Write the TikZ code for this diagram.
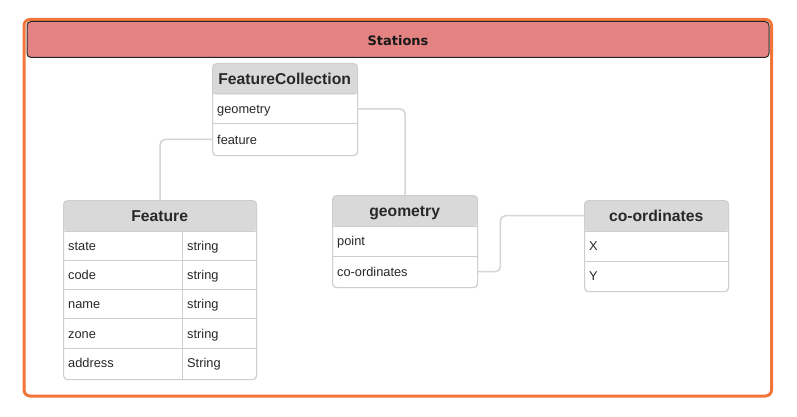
\documentclass[tikz,border=0pt]{standalone}
\usepackage{fontspec}
\setmainfont{Liberation Sans}
\newfontfamily\titlefont{DejaVu Sans}
\usetikzlibrary{calc}
\definecolor{orng}{RGB}{242,117,58}
\definecolor{hdrred}{RGB}{229,130,130}
\definecolor{hdrgray}{RGB}{217,217,217}
\definecolor{bordergray}{RGB}{206,206,206}
\definecolor{txt}{RGB}{40,40,40}
\definecolor{link}{RGB}{212,212,212}
\begin{document}
\begin{tikzpicture}[x=1pt,y=-1pt,
 tbl/.style={draw=bordergray, line width=1.2pt, rounded corners=4pt, anchor=north west, inner sep=0pt,
   path picture={\fill[hdrgray] (path picture bounding box.north west) rectangle ([yshift=-31pt]path picture bounding box.north east);}},
 hcell/.style={anchor=north west, inner xsep=5pt, inner ysep=0pt, align=center, text=txt,
   font=\bfseries\fontsize{15.7}{18}\selectfont, minimum height=31pt, text height=13pt, text depth=1pt},
 cell/.style={anchor=north west, inner xsep=5pt, inner ysep=0pt, align=left, text=txt,
   font=\fontsize{12.8}{15}\selectfont, text height=11pt, text depth=1.5pt},
 sep/.style={draw=bordergray, line width=1pt},
 conn/.style={draw=link, line width=1.5pt, rounded corners=5pt}
]
\useasboundingbox (0,0) rectangle (797,417);
\fill[white] (0,0) rectangle (797,417);

% outer frame and title
\draw[orng, line width=3pt, rounded corners=6pt] (24,19.5) rectangle (771.5,396);
\node[fill=hdrred, draw=black!85, line width=1pt, rounded corners=4pt, anchor=north west, inner sep=0pt,
  minimum width=742pt, minimum height=36pt, font=\titlefont\bfseries\fontsize{13}{16}\selectfont, text=black!90,
  text height=12pt, text depth=0.5pt]
  (title) at (26.5,21) {Stations};

% FeatureCollection
\node[tbl, minimum width=145pt, minimum height=92pt] (fc) at (212,63) {};
\node[hcell, text width=135pt] (fc-h) at (212,63) {FeatureCollection};
\node[cell, text width=135pt, minimum height=29.5pt] (fc-geom) at (212,94) {geometry};
\node[cell, text width=135pt, minimum height=31.5pt] (fc-feat) at (212,123.5) {feature};
\draw[sep] (fc-geom.north west) -- (fc-geom.north east);
\draw[sep] (fc-feat.north west) -- (fc-feat.north east);

% Feature
\node[tbl, minimum width=193pt, minimum height=179pt] (feat) at (63,200) {};
\node[hcell, text width=183pt] (feat-h) at (63,200) {Feature};
\foreach \n/\t/\y [count=\i] in {state/string/231, code/string/260, name/string/289, zone/string/318.5, address/String/348} {
  \node[cell, text width=109pt, minimum height=29.5pt] (feat-n\i) at (63,\y) {\n};
  \node[cell, text width=64pt, minimum height=29.5pt] (feat-t\i) at (182,\y) {\t};
  \draw[sep] (feat-n\i.north west) -- (feat-t\i.north east);
}
\draw[sep] (feat-t1.north west) -- (182,379);

% geometry
\node[tbl, minimum width=145pt, minimum height=92pt] (geo) at (332,195) {};
\node[hcell, text width=135pt] (geo-h) at (332,195) {geometry};
\node[cell, text width=135pt, minimum height=30pt] (geo-pt) at (332,226) {point};
\node[cell, text width=135pt, minimum height=31pt] (geo-co) at (332,256) {co-ordinates};
\draw[sep] (geo-pt.north west) -- (geo-pt.north east);
\draw[sep] (geo-co.north west) -- (geo-co.north east);

% co-ordinates
\node[tbl, minimum width=144pt, minimum height=91pt] (co) at (584,200) {};
\node[hcell, text width=134pt] (co-h) at (584,200) {co-ordinates};
\node[cell, text width=134pt, minimum height=30pt] (co-x) at (584,231) {X};
\node[cell, text width=134pt, minimum height=30pt] (co-y) at (584,261) {Y};
\draw[sep] (co-x.north west) -- (co-x.north east);
\draw[sep] (co-y.north west) -- (co-y.north east);

% connectors
\draw[conn] (fc-geom.east) -| (geo.north);
\draw[conn] (fc-feat.west) -| (feat.north);
\draw[conn] (geo-co.east) -- ++(23,0) |- (co-h.west);
\end{tikzpicture}
\end{document}
